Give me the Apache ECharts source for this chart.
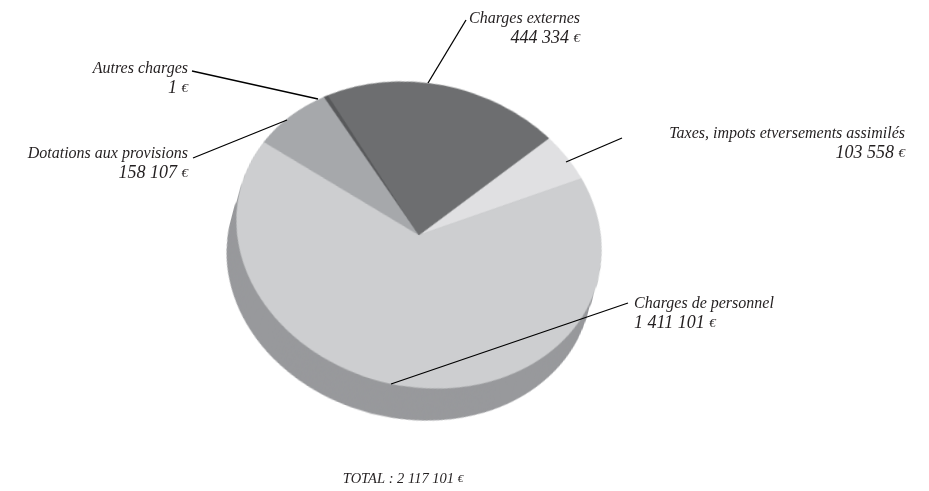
<!DOCTYPE html>
<html lang="fr">
<head>
    <meta charset="UTF-8">
    <title>Charges</title>
    <script src="https://cdn.jsdelivr.net/npm/echarts@6/dist/echarts.min.js"></script>
    <style>
        html, body { margin: 0; padding: 0; width: 929px; height: 491px; overflow: hidden; background: #fff; }
        /* ECharts pies are always round, so the tilt of the disc is done on the container */
        #pie { position: absolute; left: 168.5px; top: -15.5px; width: 500px; height: 500px;
               transform: rotate(14.4deg) scaleY(0.82); transform-origin: 50% 50%; }
        #labels { position: absolute; left: 0; top: 0; width: 929px; height: 491px; }
    </style>
</head>
<body>
    <div id="pie"></div>
    <div id="labels"></div>

    <script>
        // values printed on the chart, clockwise from the taxes slice
        var names = ['Taxes, impots etversements assimilés', 'Charges de personnel', 'Dotations aux provisions', 'Autres charges', 'Charges externes'];
        var amounts = [103558, 1411101, 158107, 1, 444334];
        var total = 2117101;
        var sliceColors = ['#e0e0e2', '#cdced0', '#a6a8ab', '#58595b', '#6d6e70'];

        function fmt(n) {
            return String(n).replace(/\B(?=(\d{3})+(?!\d))/g, ' ');
        }

        // disc thickness: same pie repeated downwards
        var series = [];
        for (var d = 41; d > 0; d -= 2) {
            series.push({
                type: 'pie',
                radius: [0, 184.4],
                center: [250 - d * 0.04, 250 + d],
                silent: true,
                label: { show: false },
                labelLine: { show: false },
                itemStyle: { color: '#98999c' },
                data: [total]
            });
        }
        series.push({
            type: 'pie',
            radius: [0, 184.4],
            center: [250, 250],
            startAngle: 56.5,
            minAngle: 1.5,
            silent: true,
            label: { show: false },
            labelLine: { show: false },
            data: names.map(function(name, i) {
                return { name: name, value: amounts[i], itemStyle: { color: sliceColors[i], borderColor: sliceColors[i], borderWidth: 0.4 } };
            })
        });

        var pieChart = echarts.init(document.getElementById('pie'));
        pieChart.setOption({ animation: false, series: series });

        // labels and leader lines sit on a second, untransformed chart
        var serif = '"Liberation Serif", serif';
        function caption(i, x, y, align) {
            return {
                type: 'text', x: x, y: y,
                style: {
                    text: '{t|' + names[i] + '}\n{n|' + fmt(amounts[i]) + ' }{e|€}',
                    align: align, verticalAlign: 'top',
                    rich: {
                        t: { font: 'italic 16px ' + serif, lineHeight: 19.5, fill: '#231f20' },
                        n: { font: 'italic 18px ' + serif, lineHeight: 19.5, fill: '#231f20' },
                        e: { font: 'italic 13px ' + serif, lineHeight: 19.5, fill: '#231f20' }
                    }
                }
            };
        }
        function leader(x1, y1, x2, y2) {
            return {
                type: 'line',
                shape: { x1: x1, y1: y1, x2: x2, y2: y2 },
                style: { stroke: '#000', lineWidth: 1.3 }
            };
        }

        var labelChart = echarts.init(document.getElementById('labels'));
        labelChart.setOption({
            animation: false,
            graphic: [
                caption(0, 905, 124, 'right'),
                caption(1, 634, 294, 'left'),
                caption(2, 188, 144, 'right'),
                caption(3, 188, 59, 'right'),
                caption(4, 580, 9, 'right'),
                {
                    type: 'text', x: 403, y: 472,
                    style: {
                        text: '{t|TOTAL : ' + fmt(total) + ' }{e|€}',
                        align: 'center', verticalAlign: 'top',
                        rich: {
                            t: { font: 'italic 14.5px ' + serif, fill: '#231f20' },
                            e: { font: 'italic 11px ' + serif, fill: '#231f20' }
                        }
                    }
                },
                leader(622, 138, 566, 162),
                leader(628, 303, 391, 384),
                leader(193, 158, 287, 120),
                leader(192, 71, 318, 99),
                leader(466, 20, 428, 83)
            ]
        });
    </script>
</body>
</html>
